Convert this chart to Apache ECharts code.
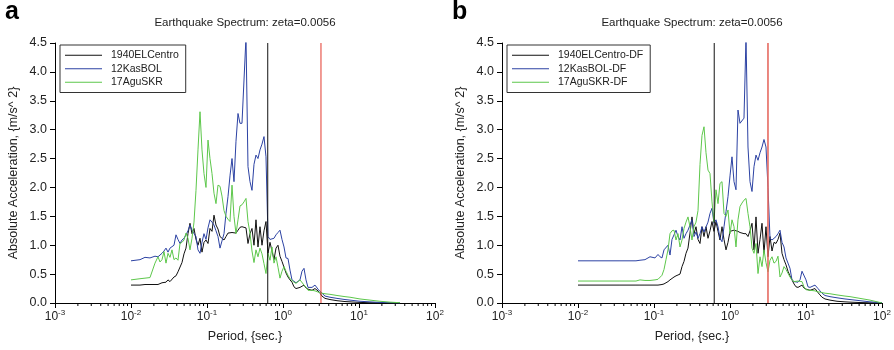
<!DOCTYPE html>
<html><head><meta charset="utf-8">
<script src="https://cdn.jsdelivr.net/npm/echarts/dist/echarts.min.js"></script>
<style>html,body{margin:0;padding:0;background:#fff}#c{width:894px;height:350px}</style>
</head><body><div id="c"></div>
<script>
// ---------- Panel a data ----------
const periodsA = [0.0100,0.01313,0.01528,0.01778,0.01889,0.02069,
0.02266,0.02407,0.02558,0.02717,0.02887,0.03067,0.03259,0.03462,0.03679,0.03909,0.04153,0.04412,0.04688,0.04981,0.05292,0.05623,0.05974,0.06347,0.06744,0.07165,0.07613,0.08089,0.08594,0.09131,0.09701,0.1031,0.1095,0.1164,0.1236,0.1313,0.1395,0.1483,0.1575,0.1674,0.1778,0.1889,0.2007,0.2133,0.2266,0.2407,0.2558,0.2717,0.2887,0.3067,0.3259,0.3462,0.3679,0.3909,0.4153,0.4412,0.4688,0.4981,0.5292,0.5623,0.5974,0.6347,0.6744,0.7165,0.7613,0.8089,0.8594,0.9131,0.9701,1.031,1.095,1.164,1.236,1.313,1.395,1.483,1.575,1.674,1.778,1.889,2.007,2.133,2.266,2.407,
2.637,2.887,3.067,3.259,3.570,4.153,5.134,6.544,7.613,10.31,13.95,18.89,25.58,34.62];
const elCentroA = [0.31,0.31,0.32,0.32,0.32,0.32,
0.32,0.33,0.35,0.34,0.36,0.40,0.37,0.40,0.45,0.47,0.54,0.57,0.70,0.85,0.95,1.20,1.38,1.20,1.29,1.10,1.00,1.12,0.88,1.05,1.09,1.03,1.29,1.24,1.52,1.35,1.28,1.15,1.12,1.09,1.15,1.21,1.20,1.22,1.20,1.21,1.26,1.31,1.32,1.33,1.30,1.03,1.20,1.29,1.00,1.44,0.97,1.32,1.00,1.25,1.41,0.86,1.05,0.90,0.75,0.95,1.00,0.81,0.72,0.62,0.52,0.45,0.40,0.36,0.28,0.25,0.26,0.27,0.30,0.31,0.26,0.24,0.22,0.22,
0.25,0.21,0.17,0.12,0.08,0.06,0.04,0.025,0.02,0.01,0.005,0.003,0.001,0.0];
const kasBolA = [0.73,0.75,0.79,0.78,0.80,0.81,
0.80,0.83,0.86,0.90,0.95,0.88,0.95,0.92,1.00,1.18,1.10,1.03,1.09,1.12,1.18,1.25,1.35,1.26,1.20,1.15,0.92,0.86,1.05,1.20,1.10,1.30,1.44,1.40,1.35,1.25,1.15,0.95,0.97,1.20,1.55,1.84,2.20,2.50,2.10,2.80,3.28,3.11,3.11,3.10,4.60,2.36,2.10,1.95,2.40,2.56,2.50,2.65,2.75,2.88,2.53,1.15,1.10,1.09,1.12,1.18,1.22,1.26,1.10,0.97,0.78,0.77,0.57,0.40,0.38,0.35,0.36,0.40,0.55,0.60,0.40,0.27,0.26,0.27,
0.31,0.24,0.20,0.17,0.12,0.10,0.08,0.06,0.05,0.03,0.02,0.01,0.005,0.0];
const aguSkrA = [0.40,0.42,0.43,0.44,0.42,0.69,
0.80,0.71,0.75,0.89,0.69,0.86,0.79,0.92,0.75,0.78,0.74,1.03,1.05,1.09,1.21,1.12,0.92,1.12,1.40,1.95,2.65,3.31,2.65,2.24,2.00,2.82,2.50,2.24,1.90,1.72,2.04,2.02,1.85,1.60,1.50,1.45,1.41,2.04,1.50,1.20,1.44,1.68,1.70,1.75,1.81,1.41,1.21,0.90,0.70,0.92,0.80,0.95,0.85,0.68,0.51,0.86,0.74,0.97,0.69,0.80,0.62,0.43,0.55,0.63,0.55,0.48,0.42,0.40,0.36,0.34,0.37,0.40,0.38,0.31,0.27,0.22,0.20,0.22,
0.21,0.19,0.18,0.17,0.16,0.15,0.13,0.11,0.10,0.07,0.05,0.03,0.015,0.005];
const markersA = [0.63, 3.16];

// ---------- Panel b data ----------
const periodsB = [0.0100,0.01948,0.03569,0.05796,0.06542,0.07613,0.08859,0.1031,0.1129,
0.1199,0.1274,0.1354,0.1438,0.1528,0.1624,0.1725,0.1833,0.1948,0.2069,0.2199,0.2336,0.2482,0.2637,0.2801,0.2976,0.3162,0.3360,0.3570,0.3793,0.4030,0.4281,0.4549,0.4833,0.5135,0.5456,0.5796,0.6158,0.6543,0.6952,0.7386,0.7848,0.8338,0.8859,0.9412,1.000,1.062,1.129,1.199,1.274,1.354,1.438,1.528,1.624,1.725,1.833,1.948,2.069,2.199,2.336,2.482,2.637,2.801,2.976,3.162,3.360,3.570,3.793,4.030,4.281,4.549,4.833,5.135,5.456,5.796,6.158,6.543,6.952,7.386,7.848,8.338,8.859,9.412,10.00,10.62,11.29,11.99,
13.14,14.38,15.28,16.24,17.78,20.69,25.58,32.59,37.93,51.35,69.52,100];
const elCentroB = [0.31,0.31,0.31,0.31,0.31,0.31,0.31,0.31,0.31,
0.32,0.32,0.33,0.34,0.37,0.40,0.42,0.45,0.47,0.45,0.50,0.63,0.72,0.86,0.95,1.21,1.49,1.20,1.32,1.10,1.03,1.32,1.15,1.32,1.12,1.25,1.41,1.24,1.41,1.24,1.09,1.32,1.10,0.92,1.05,1.24,1.24,1.26,1.26,1.24,1.22,1.20,1.20,1.20,1.15,1.25,1.38,0.92,1.49,0.86,1.10,1.38,0.86,1.32,0.80,1.15,0.90,1.05,1.03,1.10,1.21,0.86,0.75,0.66,0.55,0.47,0.40,0.33,0.28,0.27,0.29,0.31,0.26,0.24,0.23,0.22,0.22,
0.25,0.18,0.14,0.10,0.07,0.05,0.03,0.02,0.015,0.008,0.003,0.0];
const kasBolB = [0.73,0.73,0.73,0.73,0.74,0.75,0.80,0.78,0.84,
0.80,0.78,0.92,0.95,1.00,0.83,1.10,1.18,1.26,1.15,1.09,1.32,1.12,1.20,1.26,1.35,1.44,1.15,1.23,1.12,1.20,1.32,1.23,1.20,1.40,1.55,1.64,1.38,1.44,1.32,1.12,1.06,1.32,1.58,1.84,2.20,2.53,2.10,1.96,3.34,3.11,3.11,3.20,4.60,2.70,2.10,1.93,2.36,2.56,2.47,2.60,2.70,2.83,2.70,2.00,1.12,1.09,1.10,1.15,1.20,1.26,1.05,0.97,0.78,0.76,0.60,0.40,0.37,0.35,0.36,0.40,0.55,0.58,0.40,0.28,0.27,0.27,
0.31,0.25,0.21,0.17,0.13,0.11,0.09,0.07,0.06,0.04,0.02,0.005];
const aguSkrB = [0.38,0.38,0.38,0.38,0.40,0.39,0.39,0.40,0.41,
0.42,0.48,0.58,0.75,0.92,1.20,1.25,1.26,1.09,1.20,0.97,1.09,1.29,1.40,1.49,1.32,1.09,1.32,1.40,1.60,2.40,2.90,3.05,2.60,2.30,2.24,1.75,1.40,1.96,1.72,2.07,2.10,1.55,1.50,1.61,1.20,1.44,1.32,0.97,1.44,1.67,1.73,1.78,1.81,1.55,1.32,0.95,0.86,1.03,0.51,0.80,0.63,0.92,0.70,0.54,0.74,0.80,0.69,0.72,0.81,0.45,0.52,0.63,0.58,0.55,0.45,0.40,0.37,0.35,0.38,0.40,0.37,0.28,0.23,0.22,0.22,0.22,
0.21,0.19,0.19,0.18,0.17,0.16,0.14,0.12,0.11,0.08,0.05,0.0];
const markersB = [0.62, 3.16];

const xTickExponents = [-3, -2, -1, 0, 1, 2];
const minorMultipliers = [2, 3, 4, 5, 6, 7, 8, 9];
const yRange = [0, 4.5];
const panelLetters = ['a', 'b'];
const chartTitle = 'Earthquake Spectrum: zeta=0.0056';
const xName = 'Period, {sec.}';
const yName = 'Absolute Acceleration, {m/s^ 2}';

const FONT = '"Liberation Sans", Arial, Helvetica, sans-serif';
const COLORS = {black: '#111111', blue: '#2c42a3', green: '#5dc74b', red: '#e3392d', redB: '#e66a60'};

const minorTickVals = [];
for (let k = xTickExponents[0]; k < xTickExponents[xTickExponents.length - 1]; k++) {
  minorMultipliers.forEach(m => minorTickVals.push([m * Math.pow(10, k), 0]));
}

function pairs(p, v) { return p.map((x, i) => [x, v[i]]); }

function lineSeries(name, p, v, color, idx, z) {
  return {
    type: 'line', name, xAxisIndex: idx, yAxisIndex: idx,
    data: pairs(p, v), symbol: 'none', showSymbol: false,
    lineStyle: {color, width: 1}, itemStyle: {color}, z, animation: false
  };
}

function vline(val, color, width, idx) {
  return {
    type: 'line', name: 'marker', xAxisIndex: idx, yAxisIndex: idx,
    data: [[val, yRange[0]], [val, yRange[1]]], symbol: 'none', showSymbol: false,
    lineStyle: {color, width}, itemStyle: {color}, z: 5, silent: true, animation: false
  };
}

function minorSeries(idx) {
  return {
    type: 'custom', xAxisIndex: idx, yAxisIndex: idx, silent: true, clip: false,
    data: minorTickVals, animation: false,
    renderItem: (params, api) => {
      const p = api.coord([api.value(0), 0]);
      return {type: 'line', shape: {x1: p[0], y1: p[1], x2: p[0], y2: p[1] + 3},
              style: {stroke: '#000', lineWidth: 1}};
    }
  };
}

function xAxisCfg(idx) {
  return {
    type: 'log', gridIndex: idx, logBase: 10, min: 0.001, max: 100, splitNumber: 5,
    axisLine: {lineStyle: {color: '#000', width: 1}},
    axisTick: {length: 5, lineStyle: {color: '#000'}},
    splitLine: {show: false},
    axisLabel: {
      margin: 6,
      formatter: v => '{b|10}{s|' + Math.round(Math.log10(v)) + '}',
      rich: {
        b: {fontSize: 12, color: '#222', fontFamily: FONT},
        s: {fontSize: 8, color: '#222', fontFamily: FONT, padding: [0, 0, 7, 0]}
      }
    },
    name: xName, nameLocation: 'middle', nameGap: 27,
    nameTextStyle: {fontSize: 12.5, color: '#222', fontFamily: FONT}
  };
}

function yAxisCfg(idx) {
  return {
    type: 'value', gridIndex: idx, min: yRange[0], max: yRange[1], interval: 0.5,
    axisLine: {show: true, lineStyle: {color: '#000', width: 1}},
    axisTick: {show: true, length: 5, lineStyle: {color: '#000'}},
    splitLine: {show: false},
    axisLabel: {formatter: v => v.toFixed(1), fontSize: 12.5, color: '#222', fontFamily: FONT, margin: 8},
    name: yName, nameLocation: 'middle', nameGap: 35, nameRotate: 90,
    nameTextStyle: {fontSize: 12.5, color: '#222', fontFamily: FONT}
  };
}

function legendCfg(names, left) {
  return {
    data: names, left, top: 45, orient: 'vertical',
    borderColor: '#333', borderWidth: 1, padding: [4, 7, 4, 5],
    itemGap: 1, itemWidth: 37, itemHeight: 1.2, icon: 'rect',
    textStyle: {fontSize: 10.5, lineHeight: 12.5, color: '#222', fontFamily: FONT, padding: [0, 0, 0, 4]}
  };
}

const namesA = ['1940ELCentro', '12KasBOL', '17AguSKR'];
const namesB = ['1940ELCentro-DF', '12KasBOL-DF', '17AguSKR-DF'];

const option = {
  animation: false,
  textStyle: {fontFamily: FONT},
  title: [
    {text: panelLetters[0], left: 5, top: 0, padding: 0, textStyle: {fontSize: 25, fontWeight: 'bold', color: '#000', fontFamily: FONT}},
    {text: panelLetters[1], left: 452, top: 0, padding: 0, textStyle: {fontSize: 25, fontWeight: 'bold', color: '#000', fontFamily: FONT}},
    {text: chartTitle, left: 245, top: 17, textAlign: 'center', padding: 0, textStyle: {fontSize: 11.5, fontWeight: 'normal', color: '#222', fontFamily: FONT}},
    {text: chartTitle, left: 692, top: 17, textAlign: 'center', padding: 0, textStyle: {fontSize: 11.5, fontWeight: 'normal', color: '#222', fontFamily: FONT}}
  ],
  legend: [legendCfg(namesA, 60), legendCfg(namesB, 507)],
  grid: [
    {left: 55, top: 43, width: 380, height: 260, containLabel: false},
    {left: 502, top: 43, width: 380, height: 260, containLabel: false}
  ],
  xAxis: [xAxisCfg(0), xAxisCfg(1)],
  yAxis: [yAxisCfg(0), yAxisCfg(1)],
  series: [
    lineSeries(namesA[0], periodsA, elCentroA, COLORS.black, 0, 2),
    lineSeries(namesA[1], periodsA, kasBolA, COLORS.blue, 0, 3),
    lineSeries(namesA[2], periodsA, aguSkrA, COLORS.green, 0, 4),
    vline(markersA[0], COLORS.black, 1, 0),
    vline(markersA[1], COLORS.red, 1, 0),
    lineSeries(namesB[0], periodsB, elCentroB, COLORS.black, 1, 2),
    lineSeries(namesB[1], periodsB, kasBolB, COLORS.blue, 1, 3),
    lineSeries(namesB[2], periodsB, aguSkrB, COLORS.green, 1, 4),
    vline(markersB[0], COLORS.black, 1, 1),
    vline(markersB[1], COLORS.redB, 1.6, 1),
    minorSeries(0),
    minorSeries(1)
  ]
};

const chart = echarts.init(document.getElementById('c'), null, {renderer: 'canvas'});
chart.setOption(option);
</script>
</body></html>
